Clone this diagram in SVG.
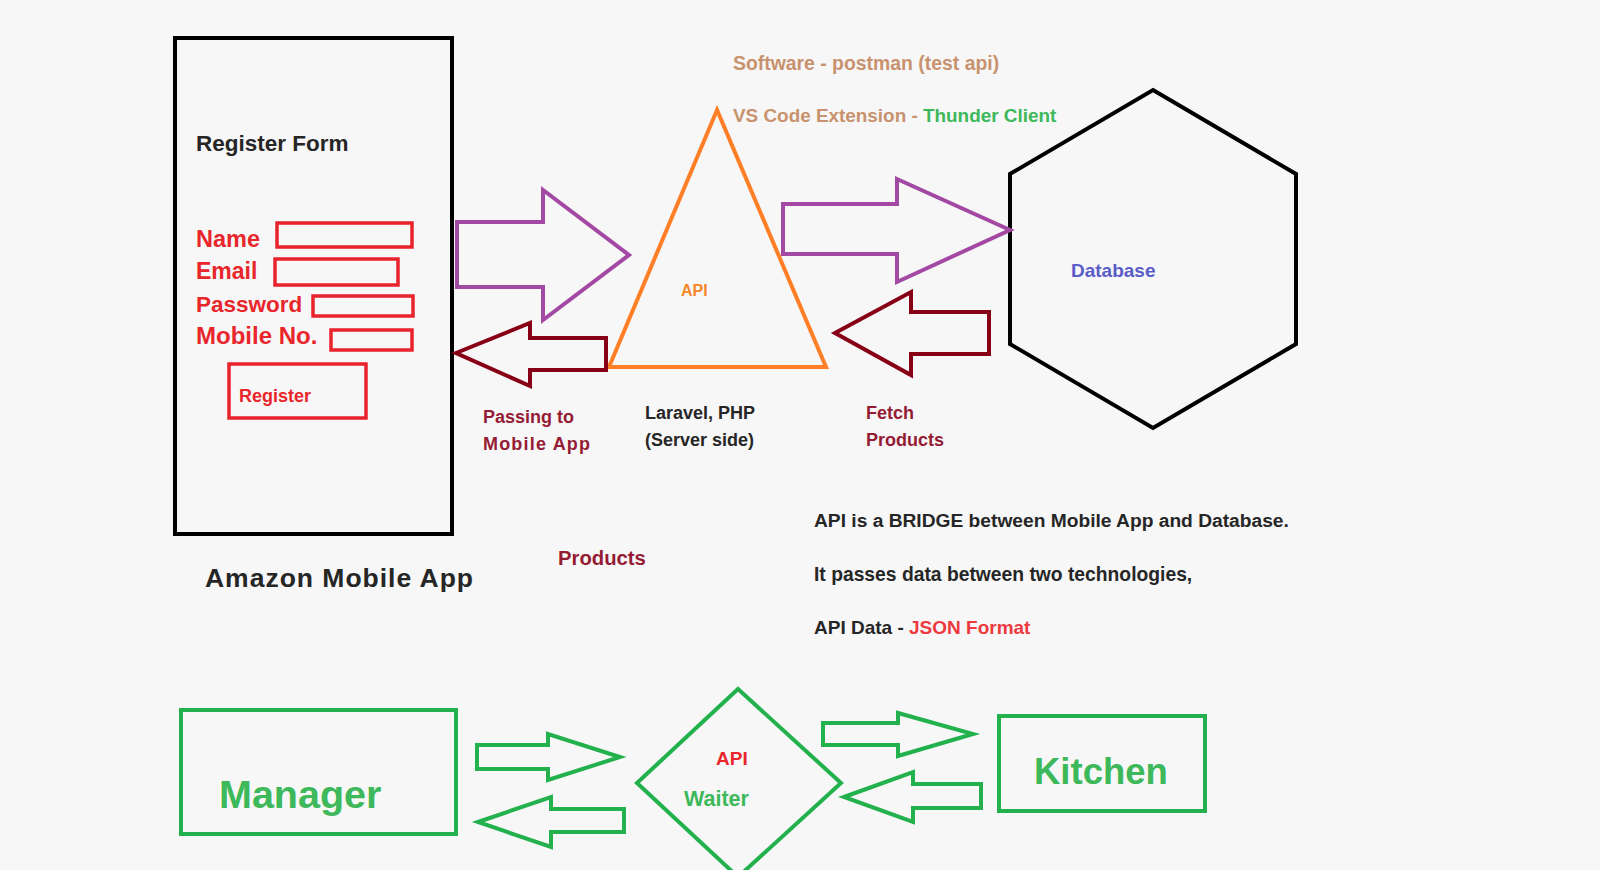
<svg xmlns="http://www.w3.org/2000/svg" width="1600" height="870" viewBox="0 0 1600 870">
<style>
text{font-family:"Liberation Sans",Arial,sans-serif;font-weight:bold}
.blk{fill:none;stroke:#000;stroke-width:4}
.red{fill:none;stroke:#e8232b;stroke-width:3.5}
.pur{fill:none;stroke:#a349a4;stroke-width:4;stroke-linejoin:miter}
.drd{fill:none;stroke:#880015;stroke-width:4}
.org{fill:none;stroke:#ff7f27;stroke-width:4}
.grn{fill:none;stroke:#22b14c;stroke-width:4}
.tRed{fill:#e8262b}
.tDark{fill:#262626}
.tMar{fill:#951b34}
.tTan{fill:#c8926e}
.tGrn{fill:#3db85a}
</style>
<rect width="1600" height="870" fill="#f7f7f7"/>

<g id="mobile-app">
  <rect class="blk" x="175" y="38" width="277" height="496"/>
  <text class="tDark" x="196" y="151" font-size="22.5">Register Form</text>
  <text class="tRed" x="196" y="247" font-size="23.5">Name</text>
  <text class="tRed" x="196" y="279" font-size="23">Email</text>
  <text class="tRed" x="196" y="312" font-size="22.5">Password</text>
  <text class="tRed" x="196" y="344" font-size="24">Mobile No.</text>
  <rect class="red" x="277" y="223" width="135" height="24"/>
  <rect class="red" x="275" y="259" width="123" height="26"/>
  <rect class="red" x="313" y="296" width="100" height="20"/>
  <rect class="red" x="331" y="330" width="81" height="20"/>
  <rect class="red" x="229" y="364" width="137" height="54"/>
  <text class="tRed" x="239" y="402" font-size="18">Register</text>
  <text class="tDark" x="205" y="587" font-size="26.5" textLength="268">Amazon Mobile App</text>
</g>

<g id="api">
  <polygon class="org" points="717,110 609,367 826,367"/>
  <text x="681" y="296" font-size="16" fill="#f5862a">API</text>
  <text class="tDark" x="645" y="419" font-size="18">Laravel, PHP</text>
  <text class="tDark" x="645" y="446" font-size="18">(Server side)</text>
</g>

<g id="database">
  <polygon class="blk" points="1153,90 1296,174 1296,344 1153,428 1010,344 1010,174"/>
  <text x="1071" y="277" font-size="19" fill="#5a5cc8">Database</text>
</g>

<g id="notes">
  <text class="tTan" x="733" y="70" font-size="19.4">Software - postman (test api)</text>
  <text x="733" y="122" font-size="18.9"><tspan class="tTan">VS Code Extension - </tspan><tspan class="tGrn">Thunder Client</tspan></text>
  <text class="tDark" x="814" y="527" font-size="19.2">API is a BRIDGE between Mobile App and Database.</text>
  <text class="tDark" x="814" y="581" font-size="19.3">It passes data between two technologies,</text>
  <text x="814" y="634" font-size="19"><tspan class="tDark">API Data - </tspan><tspan fill="#ee3a3f">JSON Format</tspan></text>
</g>

<g id="labels">
  <text class="tMar" x="483" y="423" font-size="18">Passing to</text>
  <text class="tMar" x="483" y="450" font-size="18" textLength="107">Mobile App</text>
  <text class="tMar" x="866" y="419" font-size="18">Fetch</text>
  <text class="tMar" x="866" y="446" font-size="18">Products</text>
  <text class="tMar" x="558" y="565" font-size="20.3">Products</text>
</g>

<g id="manager">
  <rect class="grn" x="181" y="710" width="275" height="124"/>
  <text class="tGrn" x="219" y="808" font-size="39.5">Manager</text>
</g>

<g id="waiter">
  <polygon class="grn" points="738,689 841,783 738,877 637,783"/>
  <text class="tRed" x="716" y="765" font-size="19">API</text>
  <text class="tGrn" x="684" y="806" font-size="21.5">Waiter</text>
</g>

<g id="kitchen">
  <rect class="grn" x="999" y="716" width="206" height="95"/>
  <text class="tGrn" x="1034" y="784" font-size="36.5">Kitchen</text>
</g>

<g id="connectors">
  <polygon class="pur" points="457,222 543,222 543,190 629,255 543,320 543,287 457,287"/>
  <polygon class="drd" points="456,353 530,323 530,338 606,338 606,370 530,370 530,386"/>
  <polygon class="pur" points="783,204 897,204 897,179 1010,230 897,282 897,254 783,254"/>
  <polygon class="drd" points="835,333 911,292 911,312 989,312 989,354 911,354 911,375"/>
  <polygon class="grn" points="477,745 548,745 548,734 620,757 548,780 548,769 477,769"/>
  <polygon class="grn" points="478,822 551,797 551,809 624,809 624,832 551,832 551,847"/>
  <polygon class="grn" points="823,723 898,723 898,713 973,734 898,756 898,745 823,745"/>
  <polygon class="grn" points="844,797 913,772 913,784 981,784 981,808 913,808 913,822"/>
</g>
</svg>
